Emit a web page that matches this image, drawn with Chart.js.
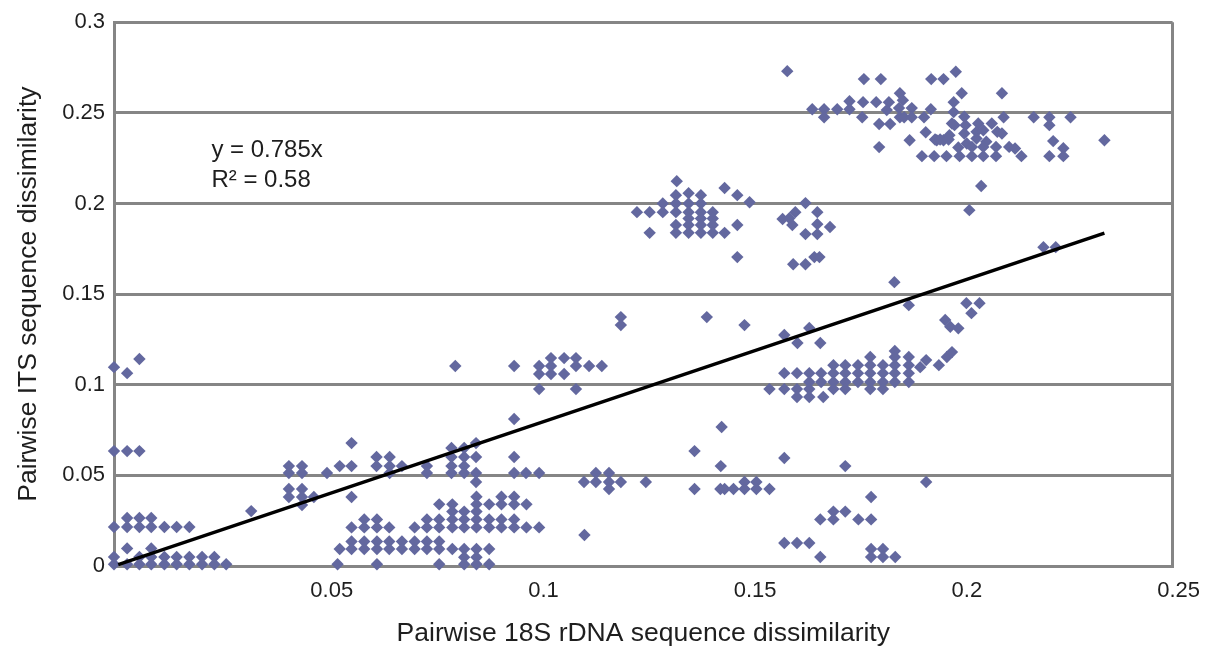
<!DOCTYPE html>
<html>
<head>
<meta charset="utf-8">
<script src="https://cdn.jsdelivr.net/npm/chart.js@4.4.1/dist/chart.umd.min.js"></script>
<style>
  html, body { margin: 0; padding: 0; background: #fff; }
  #wrap { width: 1206px; height: 650px; position: relative; }
</style>
</head>
<body>
<div id="wrap"><canvas id="chart"></canvas></div>
<script>
// [x = 18S rDNA dissimilarity, y = ITS dissimilarity]
const nearOrigin = [
  [0, 0.1097], [0.0031, 0.1064], [0.006, 0.1142],
  [0, 0.0634], [0.0031, 0.0634], [0.006, 0.0634],
  [0.0031, 0.0265], [0.006, 0.0265], [0.0088, 0.0265],
  [0, 0.0215], [0.0031, 0.0215], [0.006, 0.0215], [0.0088, 0.0215], [0.0119, 0.0215], [0.0148, 0.0215], [0.0178, 0.0215],
  [0.0031, 0.0097], [0.0088, 0.0097],
  [0, 0.005], [0.006, 0.005], [0.0088, 0.005], [0.0119, 0.005], [0.0148, 0.005], [0.0178, 0.005], [0.0208, 0.005], [0.0237, 0.005],
  [0, 0.001], [0.0031, 0.001], [0.006, 0.001], [0.0088, 0.001], [0.0119, 0.001], [0.0148, 0.001], [0.0178, 0.001],
  [0.0208, 0.001], [0.0237, 0.001], [0.0265, 0.001],
  [0.0324, 0.0303]
];

const band05 = [
  [0.0413, 0.0551], [0.0413, 0.0513], [0.0413, 0.0425], [0.0413, 0.0381],
  [0.0444, 0.0551], [0.0444, 0.0513], [0.0444, 0.0425], [0.0444, 0.0381], [0.0444, 0.0336],
  [0.0472, 0.0381], [0.0503, 0.0513], [0.0533, 0.0551],
  [0.0561, 0.0678], [0.0561, 0.0551], [0.0561, 0.0381],
  [0.062, 0.0601], [0.062, 0.0551],
  [0.0651, 0.0601], [0.0651, 0.0551], [0.0651, 0.0513],
  [0.068, 0.0551],
  [0.0739, 0.0551], [0.0739, 0.0513],
  [0.0797, 0.0651], [0.0797, 0.0601], [0.0797, 0.0551], [0.0797, 0.0513],
  [0.0827, 0.0651], [0.0827, 0.0601], [0.0827, 0.0551], [0.0827, 0.0513],
  [0.0855, 0.0678], [0.0855, 0.0601], [0.0855, 0.0513], [0.0855, 0.0463],
  [0.0945, 0.0811], [0.0945, 0.0601], [0.0945, 0.0513],
  [0.0973, 0.0513], [0.1004, 0.0513]
];

const band02 = [
  [0.0528, 0.001], [0.0533, 0.0094],
  [0.0561, 0.0213], [0.0561, 0.0135], [0.0561, 0.0094],
  [0.0591, 0.0257], [0.0591, 0.0213], [0.0591, 0.0135], [0.0591, 0.0094],
  [0.0621, 0.0257], [0.0621, 0.0213], [0.0621, 0.0135], [0.0621, 0.0094], [0.0621, 0.001],
  [0.065, 0.0213], [0.065, 0.0135], [0.065, 0.0094],
  [0.068, 0.0135], [0.068, 0.0094],
  [0.071, 0.0213], [0.071, 0.0135], [0.071, 0.0094],
  [0.0739, 0.0257], [0.0739, 0.0213], [0.0739, 0.0135], [0.0739, 0.0094],
  [0.0768, 0.034], [0.0768, 0.0257], [0.0768, 0.0213], [0.0768, 0.0135], [0.0768, 0.0094], [0.0768, 0.001],
  [0.0799, 0.034], [0.0799, 0.030], [0.0799, 0.0257], [0.0799, 0.0213], [0.0799, 0.0094],
  [0.0827, 0.030], [0.0827, 0.0257], [0.0827, 0.0213], [0.0827, 0.0094], [0.0827, 0.0048], [0.0827, 0.001],
  [0.0856, 0.0382], [0.0856, 0.034], [0.0856, 0.030], [0.0856, 0.0257], [0.0856, 0.0213], [0.0856, 0.0094], [0.0856, 0.0048], [0.0856, 0.001],
  [0.0886, 0.034], [0.0886, 0.0257], [0.0886, 0.0213], [0.0886, 0.0094], [0.0886, 0.001],
  [0.0915, 0.0382], [0.0915, 0.034], [0.0915, 0.0257], [0.0915, 0.0213],
  [0.0945, 0.0382], [0.0945, 0.034], [0.0945, 0.0257], [0.0945, 0.0213],
  [0.0974, 0.034], [0.0974, 0.0213], [0.1004, 0.0213]
];

const band11 = [
  [0.0806, 0.1103], [0.0945, 0.1103],
  [0.1004, 0.1103], [0.1004, 0.1059], [0.1004, 0.0976],
  [0.1032, 0.1147], [0.1032, 0.1103], [0.1032, 0.1059],
  [0.1063, 0.1147], [0.1063, 0.1059],
  [0.1091, 0.1147], [0.1091, 0.1103], [0.1091, 0.0976],
  [0.1122, 0.1103], [0.1152, 0.1103],
  [0.1197, 0.1373], [0.1197, 0.1329], [0.14, 0.1373], [0.1489, 0.1329],
  [0.1583, 0.1274], [0.1614, 0.123], [0.1642, 0.1313], [0.1668, 0.123]
];

const band045 = [
  [0.1111, 0.0171],
  [0.111, 0.0463], [0.1138, 0.0513], [0.1138, 0.0463], [0.1169, 0.0513], [0.1169, 0.0463], [0.1169, 0.0425],
  [0.1197, 0.0463], [0.1256, 0.0463],
  [0.1371, 0.0634], [0.1435, 0.0767], [0.1433, 0.0551], [0.1583, 0.0596], [0.1727, 0.0551],
  [0.1371, 0.0425], [0.1432, 0.0425], [0.1442, 0.0425], [0.1463, 0.0425],
  [0.1489, 0.0463], [0.1489, 0.0425], [0.1517, 0.0463], [0.1517, 0.0425], [0.1548, 0.0425],
  [0.1788, 0.0381],
  [0.1668, 0.0257], [0.1699, 0.030], [0.1699, 0.0257], [0.1727, 0.030], [0.1758, 0.0257], [0.1788, 0.0257],
  [0.1583, 0.0127], [0.1613, 0.0127], [0.1642, 0.0127], [0.1668, 0.005],
  [0.1788, 0.0094], [0.1788, 0.005], [0.1816, 0.0094], [0.1816, 0.005], [0.1845, 0.005],
  [0.1918, 0.0463]
];

const band10 = [
  [0.1548, 0.0976],
  [0.1583, 0.1064], [0.1583, 0.0976],
  [0.1613, 0.1064], [0.1613, 0.0976], [0.1613, 0.0932],
  [0.1642, 0.1064], [0.1642, 0.1015], [0.1642, 0.0976], [0.1642, 0.0932],
  [0.167, 0.1064], [0.167, 0.1015], [0.1675, 0.0932],
  [0.1699, 0.1108], [0.1699, 0.1064], [0.1699, 0.1015], [0.1699, 0.0976],
  [0.1727, 0.1108], [0.1727, 0.1064], [0.1727, 0.1015], [0.1727, 0.0976],
  [0.1757, 0.1108], [0.1757, 0.1064], [0.1757, 0.1015],
  [0.1786, 0.1153], [0.1786, 0.1108], [0.1786, 0.1064], [0.1786, 0.1015], [0.1786, 0.0976],
  [0.1816, 0.1108], [0.1816, 0.1064], [0.1816, 0.1015], [0.1816, 0.0976],
  [0.1844, 0.1186], [0.1844, 0.1153], [0.1844, 0.1108], [0.1844, 0.1064], [0.1844, 0.1015],
  [0.1877, 0.1153], [0.1877, 0.1108], [0.1877, 0.1064], [0.1877, 0.1015],
  [0.1904, 0.1097], [0.1918, 0.1136],
  [0.1948, 0.1108], [0.1967, 0.1153], [0.1979, 0.118],
  [0.1963, 0.1357], [0.1975, 0.132], [0.1994, 0.1311],
  [0.2013, 0.145], [0.2044, 0.145], [0.2025, 0.1395], [0.1877, 0.1439], [0.1843, 0.1566]
];

const band19 = [
  [0.1329, 0.2123],
  [0.1327, 0.2046], [0.1357, 0.2057], [0.1386, 0.2046],
  [0.1296, 0.2], [0.1327, 0.2], [0.1357, 0.2], [0.1386, 0.2],
  [0.1235, 0.1952], [0.1265, 0.1952], [0.1296, 0.1952], [0.1327, 0.1952], [0.1357, 0.1952], [0.1386, 0.1952], [0.1414, 0.1952],
  [0.1357, 0.1917], [0.1386, 0.1917], [0.1414, 0.1917],
  [0.1327, 0.1881], [0.1357, 0.1881], [0.1386, 0.1881], [0.1414, 0.1881],
  [0.1265, 0.1838], [0.1327, 0.1838], [0.1357, 0.1838], [0.1386, 0.1838], [0.1414, 0.1838], [0.1442, 0.1838],
  [0.1442, 0.2085], [0.1472, 0.2046], [0.1501, 0.2007],
  [0.1472, 0.1881], [0.1472, 0.1704],
  [0.1633, 0.2002], [0.1609, 0.1952], [0.1661, 0.1952],
  [0.1579, 0.1914], [0.1595, 0.1919], [0.1602, 0.1881], [0.1661, 0.1886], [0.1691, 0.187],
  [0.1633, 0.1831], [0.1661, 0.1831],
  [0.1654, 0.1704], [0.1666, 0.1704], [0.1604, 0.1665], [0.1633, 0.1665]
];

const band24 = [
  [0.159, 0.273], [0.1771, 0.2686], [0.1811, 0.2686], [0.193, 0.2686], [0.1959, 0.2686], [0.1988, 0.2727],
  [0.1649, 0.252], [0.1677, 0.252], [0.1708, 0.252], [0.1737, 0.252], [0.1677, 0.2476], [0.1737, 0.2564],
  [0.1769, 0.2559], [0.18, 0.2559], [0.183, 0.2559], [0.1767, 0.2476], [0.1825, 0.2515],
  [0.1856, 0.2608], [0.1863, 0.257], [0.1854, 0.2526], [0.1856, 0.2476], [0.1866, 0.2476], [0.1884, 0.2526], [0.1884, 0.2476],
  [0.1807, 0.2438], [0.1833, 0.2438], [0.1913, 0.2476], [0.1929, 0.252],
  [0.1917, 0.2393], [0.1943, 0.2349], [0.1959, 0.2349], [0.1973, 0.2377], [0.1985, 0.2432], [0.1983, 0.2504], [0.1983, 0.2559],
  [0.1879, 0.2349], [0.1807, 0.2311],
  [0.1908, 0.2261], [0.1937, 0.2261], [0.1966, 0.2261], [0.1997, 0.2261], [0.2026, 0.2261], [0.2053, 0.2261], [0.2083, 0.2261], [0.2143, 0.2261],
  [0.2002, 0.2608], [0.2097, 0.2608], [0.2008, 0.2478], [0.2101, 0.2476],
  [0.2172, 0.2476], [0.2209, 0.2476], [0.2259, 0.2476], [0.2209, 0.2432],
  [0.2218, 0.2344], [0.2242, 0.2305], [0.2242, 0.2261], [0.2209, 0.2261], [0.2339, 0.2349],
  [0.1979, 0.2441], [0.2011, 0.2432], [0.2041, 0.2441], [0.2073, 0.2441],
  [0.1939, 0.2353], [0.1951, 0.2353], [0.1971, 0.2353],
  [0.2008, 0.2386], [0.2037, 0.2395], [0.2053, 0.2404], [0.2086, 0.2395], [0.2097, 0.2386],
  [0.2037, 0.2358], [0.2014, 0.2331], [0.206, 0.2341],
  [0.1994, 0.2309], [0.2026, 0.2312], [0.2053, 0.2312], [0.2083, 0.2312], [0.2114, 0.2312], [0.2128, 0.2303],
  [0.2048, 0.2096], [0.202, 0.1963], [0.2195, 0.1759], [0.2224, 0.1759]
];

// fitted line y = 0.785x, drawn over the data range
const trendX = [0.001, 0.2339];
const trendY = [0.0008, 0.1836];

const xTickLabels = ['', '0.05', '0.1', '0.15', '0.2', '0.25'];
const yTickLabels = ['0', '0.05', '0.1', '0.15', '0.2', '0.25', '0.3'];

const allPoints = [...nearOrigin, ...band05, ...band02, ...band11, ...band045, ...band10, ...band19, ...band24]
  .map(([x, y]) => ({ x, y }));

const gridGray = '#858585';
const textColor = '#1e1e1e';
const fontFamily = '"Liberation Sans", Arial, Helvetica, sans-serif';

const equationLabel = {
  id: 'equationLabel',
  afterDraw(chart) {
    const { ctx, scales } = chart;
    const left = scales.x.getPixelForValue(0.023);
    ctx.save();
    ctx.fillStyle = textColor;
    ctx.font = '24px ' + fontFamily;
    ctx.textBaseline = 'middle';
    ctx.textAlign = 'left';
    ctx.fillText('y = 0.785x', left, scales.y.getPixelForValue(0.2294));
    ctx.fillText('R² = 0.58', left, scales.y.getPixelForValue(0.2129));
    ctx.restore();
  },
};

new Chart(document.getElementById('chart'), {
  type: 'scatter',
  data: {
    datasets: [
      {
        label: 'Linear fit',
        data: trendX.map((x, i) => ({ x, y: trendY[i] })),
        showLine: true,
        borderColor: '#000',
        borderWidth: 3.5,
        pointRadius: 0,
        order: 0,
      },
      {
        label: 'Pairs',
        data: allPoints,
        pointStyle: 'rectRot',
        pointRadius: 6.2,
        pointBorderWidth: 0,
        backgroundColor: '#63689f',
        borderColor: '#63689f',
        clip: false,
        order: 1,
      },
    ],
  },
  options: {
    responsive: true,
    maintainAspectRatio: false,
    animation: false,
    layout: { padding: { top: 22, right: 30, left: 0, bottom: 0 } },
    plugins: {
      legend: { display: false },
      tooltip: { enabled: false },
    },
    scales: {
      x: {
        type: 'linear',
        min: 0,
        max: 0.25,
        ticks: {
          stepSize: 0.05,
          padding: 12,
          labelOffset: 6,
          color: textColor,
          font: { family: fontFamily, size: 22 },
          callback: (v, i) => xTickLabels[i],
        },
        grid: {
          drawTicks: false,
          lineWidth: 3,
          color: (ctx) => (ctx.index === xTickLabels.length - 1 ? gridGray : 'rgba(0,0,0,0)'),
        },
        border: { color: gridGray, width: 3 },
        title: {
          display: true,
          text: 'Pairwise 18S rDNA sequence dissimilarity',
          color: textColor,
          font: { family: fontFamily, size: 26.5 },
          padding: { top: 0, bottom: 0 },
        },
        afterFit: (scale) => { scale.height = 84; },
      },
      y: {
        type: 'linear',
        min: 0,
        max: 0.3,
        ticks: {
          stepSize: 0.05,
          padding: 9,
          color: textColor,
          font: { family: fontFamily, size: 22 },
          callback: (v, i) => yTickLabels[i],
        },
        grid: { drawTicks: false, lineWidth: 3, color: gridGray },
        border: { color: gridGray, width: 3 },
        title: {
          display: true,
          text: 'Pairwise ITS sequence dissimilarity',
          color: textColor,
          font: { family: fontFamily, size: 26.5 },
          padding: { top: 13, bottom: 0 },
        },
        afterFit: (scale) => { scale.width = 114; },
      },
    },
  },
  plugins: [equationLabel],
});
</script>
</body>
</html>
